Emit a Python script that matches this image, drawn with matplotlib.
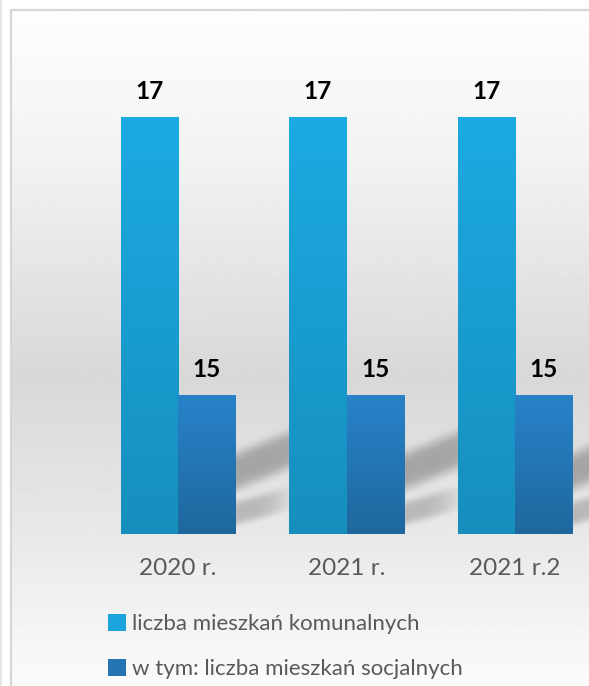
import numpy as np
import matplotlib.pyplot as plt
from matplotlib.colors import LinearSegmentedColormap

categories = ['2020 r.', '2021 r.', '2021 r.2']
komunalne = [17, 17, 17]
socjalne = [15, 15, 15]
series_names = ['liczba mieszkań komunalnych', 'w tym: liczba mieszkań socjalnych']

plt.rcParams['font.family'] = ['Lato', 'DejaVu Sans']

W, H = 589, 686
fig = plt.figure(figsize=(W / 100, H / 100), dpi=100)
fig.patch.set_facecolor('white')

# background panel with vertical grey gradient (pixel coords)
bg = fig.add_axes([0, 0, 1, 1], zorder=-10)
bg.set_xlim(0, W)
bg.set_ylim(H, 0)
bg.axis('off')
py = np.arange(H)
shade = np.interp(py, [10, 150, 370, 540, 686], [0.99, 0.95, 0.847, 0.915, 0.985])
grad = np.repeat(shade[:, None], 2, axis=1)
bg.imshow(grad, cmap='gray', vmin=0, vmax=1, extent=[12, W, H, 11], aspect='auto')
bg.plot([11, 11, W], [H, 10, 10], color='#d6d6d6', lw=1.6, solid_capstyle='butt')
bg.plot([1, 1], [0, H], color='#e0e0e0', lw=1.2)

# main plot area
ax = fig.add_axes([93.75 / W, 152 / H, (W - 93.75) / W, (646 - 152) / H])
ax.patch.set_alpha(0)
x = np.arange(len(categories))
width = 0.34
b1 = ax.bar(x - width / 2, komunalne, width, color='#1ba5dc', label=series_names[0], zorder=2)
b2 = ax.bar(x + width / 2, socjalne, width, color='#2474b2', label=series_names[1], zorder=2)

xlim = (-0.5, (W - 178) / 168.5)
ylim = (14, 14 + 494 / 139)

# gradient fill on bars
cm_light = LinearSegmentedColormap.from_list('light', ['#168fbd', '#1caae2'])
cm_dark = LinearSegmentedColormap.from_list('dark', ['#1e689e', '#2882c9'])
g = np.linspace(0, 1, 100)[:, None]
for bars, cm in [(b1, cm_light), (b2, cm_dark)]:
    for r in bars:
        x0, x1 = r.get_x(), r.get_x() + r.get_width()
        y0, y1 = max(r.get_y(), ylim[0]), r.get_y() + r.get_height()
        ax.imshow(g, cmap=cm, extent=[x0, x1, y0, y1], origin='lower',
                  aspect='auto', zorder=3)

# soft diagonal shadows behind the bars
xs = np.linspace(xlim[0], xlim[1], 700)
ys = np.linspace(ylim[0], ylim[1], 500)
XX, YY = np.meshgrid(xs, ys)
PX = 178 + 168.5 * XX
PY = 534 - 139 * (YY - 14)
alpha = np.zeros_like(PX)
for i in range(len(categories)):
    right = 178 + 168.5 * x[i] + 57
    dx = PX - right
    keep = 1 / (1 + np.exp(-(dx + 100) / 4))
    ca = 472 - 0.4 * dx
    fa = 1 / (1 + np.exp((dx - 75) / 9))
    alpha += 0.27 * np.exp(-((PY - ca) / 19) ** 4) * fa * keep
    cb = 514 - 0.28 * dx
    fb = 1 / (1 + np.exp((dx - 45) / 8))
    alpha += 0.2 * np.exp(-((PY - cb) / 12) ** 4) * fb * keep
alpha *= 1 / (1 + np.exp((PY - 532) / 2))
rgba = np.zeros(PX.shape + (4,))
rgba[..., 3] = np.clip(alpha, 0, 0.4)
ax.imshow(rgba, extent=[xlim[0], xlim[1], ylim[0], ylim[1]], origin='lower',
          aspect='auto', zorder=1)

ax.bar_label(b1, padding=10, fontsize=17.5, fontweight='bold', color='black')
ax.bar_label(b2, padding=10, fontsize=17.5, fontweight='bold', color='black')

ax.set_xlim(*xlim)
ax.set_ylim(*ylim)
ax.set_xticks(x, categories)
ax.tick_params(axis='x', length=0, pad=17, labelsize=17.5, labelcolor='#595959')
ax.set_yticks([])
for s in ax.spines.values():
    s.set_visible(False)

fig.legend(handles=[b1, b2], loc='upper left', bbox_to_anchor=(99 / W, 1 - 605 / H),
           frameon=False, fontsize=16, labelcolor='#595959', handlelength=0.8,
           handleheight=0.8, handletextpad=0.3, labelspacing=1.12,
           borderaxespad=0)

fig.savefig('out.png', dpi=100)
